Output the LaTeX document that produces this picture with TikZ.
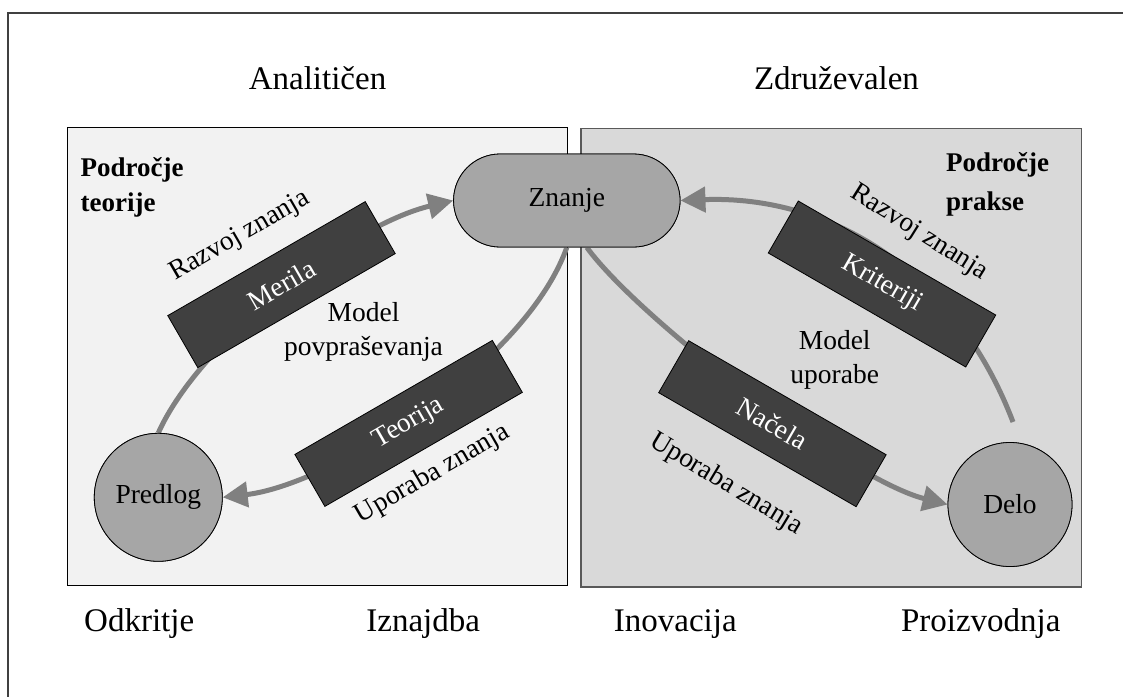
\documentclass[tikz,border=0pt]{standalone}
\usepackage{fontspec}
\setmainfont{Liberation Serif}
\usetikzlibrary{arrows.meta,shapes.misc,calc}
\definecolor{boxL}{HTML}{F2F2F2}
\definecolor{boxR}{HTML}{D9D9D9}
\definecolor{boxRline}{HTML}{595959}
\definecolor{nodeG}{HTML}{A6A6A6}
\definecolor{darkG}{HTML}{404040}
\definecolor{arcG}{HTML}{808080}
\definecolor{frameG}{HTML}{404040}
\begin{document}
\begin{tikzpicture}[x=1pt,y=-1pt,
  ttl/.style={font=\fontsize{33}{40}\selectfont, inner sep=0pt, anchor=base},
  lbl/.style={font=\fontsize{27.5}{34}\selectfont, inner sep=0pt},
  areatxt/.style={font=\fontsize{27}{35}\selectfont\bfseries, inner sep=0pt, align=left},
  darkbox/.style={draw=black, line width=0.8pt, fill=darkG, text=white, minimum width=228pt, minimum height=60pt, inner sep=0pt, font=\fontsize{27.5}{34}\selectfont},
  disc/.style={draw=black, line width=0.8pt, fill=nodeG, circle, inner sep=0pt, font=\fontsize{27.5}{34}\selectfont},
  pill/.style={draw=black, line width=0.8pt, fill=nodeG, rounded rectangle, inner sep=0pt, font=\fontsize{27.5}{34}\selectfont},
  arrowline/.style={draw=arcG, line width=5pt, -{Triangle[length=25pt,width=25pt]}}
]
\useasboundingbox (0,0) rectangle (1123,696);
\fill[white] (0,0) rectangle (1123,696);
\draw[frameG, line width=2pt] (8,710) -- (8,13) -- (1140,13);

% areas
\draw[fill=boxL, draw=black, line width=1pt] (67,127) rectangle (567.5,585);
\draw[fill=boxR, draw=boxRline, line width=1.2pt] (581,128.5) rectangle (1081.5,587);

% titles
\node[ttl] (an) at (317.5,89.3) {Analitičen};
\node[ttl] (zd) at (836.5,89.3) {Združevalen};
\node[ttl] (od) at (139.2,631.7) {Odkritje};
\node[ttl] (iz) at (423.2,631.7) {Iznajdba};
\node[ttl] (in) at (675.3,631.7) {Inovacija};
\node[ttl] (pr) at (980.8,631.7) {Proizvodnja};

% main nodes
\node[pill, minimum width=226.5pt, minimum height=93pt] (zn) at (566.8,200.5) {Znanje};
\node[disc, minimum size=128pt] (pred) at (158.3,497.3) {Predlog};
\node[disc, minimum size=124pt] (delo) at (1010,504.5) {Delo};

% connectors
\coordinate (dtop) at (1013,422);
\draw[arrowline] (pred.north) .. controls (200,340) and (350,225) .. (zn.west);
\draw[arrowline] (zn.south) .. controls (525,365) and (330,485) .. (pred.east);
\draw[arrowline] ($(zn.south)+(20,0)$) .. controls (640,320) and (850,480) .. (delo.west);
\draw[arrowline] (dtop) .. controls (955,270) and (830,195) .. (zn.east);

% dark boxes
\node[darkbox, rotate=30] (merila) at (281.5,284.6) {Merila};
\node[darkbox, rotate=30] (teorija) at (408.6,423.4) {Teorija};
\node[darkbox, rotate=-30] (krit) at (882,284) {Kriteriji};
\node[darkbox, rotate=-30] (nacela) at (772.4,423.7) {Načela};

% redraw nodes on top
\node[pill, minimum width=226.5pt, minimum height=93pt] at (zn) {Znanje};
\node[disc, minimum size=128pt] at (pred) {Predlog};
\node[disc, minimum size=124pt] at (delo) {Delo};

% area labels (anchored at the baseline of the last line)
\node[areatxt, anchor=base west] (pt) at (80.4,211.7) {Področje\\teorije};
\node[areatxt, anchor=base west, font=\fontsize{27}{39.5}\selectfont\bfseries] (pp) at (946,210.7) {Področje\\prakse};

% model labels
\node[lbl, align=center] (mp) at (363.5,332) {Model\\povpraševanja};
\node[lbl, align=center] (mu) at (834.7,359.4) {Model\\uporabe};

% flow labels
\node[lbl, rotate=30, anchor=base] (rz1) at (243,241.5) {Razvoj znanja};
\node[lbl, rotate=30, anchor=base] (up1) at (436,480) {Uporaba znanja};
\node[lbl, rotate=-32] (rz2) at (919,233) {Razvoj znanja};
\node[lbl, rotate=-31] (up2) at (726,484) {Uporaba znanja};
\end{tikzpicture}
\end{document}
